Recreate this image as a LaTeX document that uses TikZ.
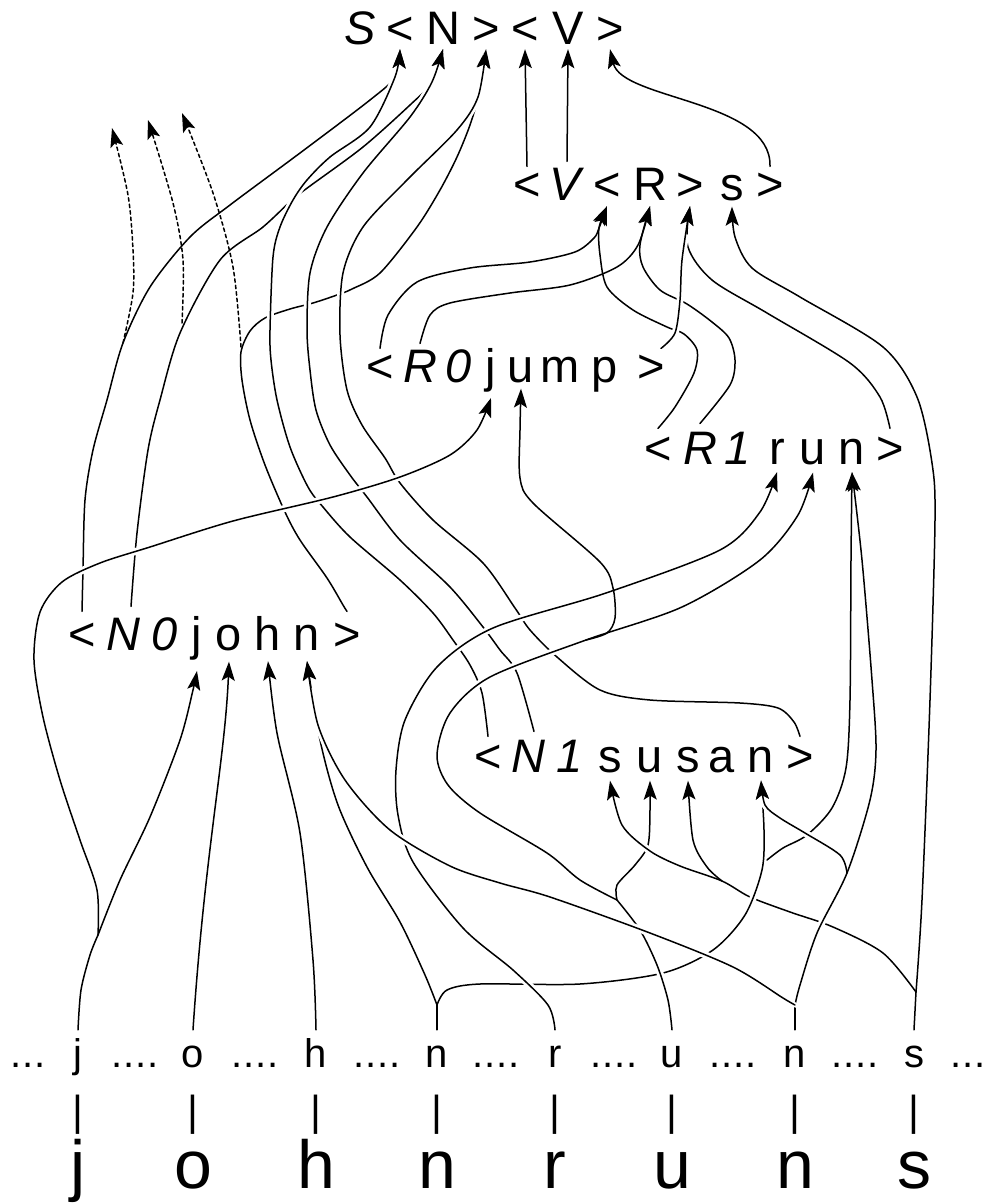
\documentclass[tikz,border=0pt]{standalone}
\usepackage{fontspec}
\setmainfont{Liberation Sans}
\usetikzlibrary{arrows.meta}
\newcommand\rowfont{\fontsize{47}{54}\selectfont}
\newcommand\tapefont{\fontsize{40}{46}\selectfont}
\newcommand\barfont{\fontsize{42}{48}\selectfont}
\newcommand\wordfont{\fontsize{68}{78}\selectfont}
\newcommand\threedots{.\kern1pt.\kern1pt.}
\newcommand\fourdots{.\kern1pt.\kern1pt.\kern1pt.}
\tikzset{
  glyph/.style={font=\rowfont, anchor=base, inner xsep=2pt, inner ysep=#1},
  glyph/.default=7pt,
  tape/.style={font=\tapefont, anchor=base, inner ysep=8pt, text height=29pt, text depth=8pt},
  strand/.style={line width=1.5pt, line cap=round},
  feed/.style={strand, -{Stealth[length=19pt,width=13pt,inset=4pt]}},
  over/.style 2 args={preaction={draw=white, line width=7pt, -, shorten <=#1, shorten >=#2}},
  hint/.style={feed, dash pattern=on 3.5pt off 3pt},
}
\begin{document}
\begin{tikzpicture}[x=1pt,y=-1pt]
\useasboundingbox (0,0) rectangle (994,1203);

% symbol rows
\foreach \nm/\x/\g in {tS/360/\textit{S},tlt/400/<,tN/443/N,tgt/486/>,tlt2/525/<,tV/568/V,tgt2/610/>}
  \node[glyph=5pt] (\nm) at (\x,44) {\g};
\foreach \nm/\x/\g in {vlt/527/<,vV/567/\textit{V},vlt2/607/<,vR/650/R,vgt/690/>,vs/732/s,vgt2/770/>}
  \node[glyph=6pt] (\nm) at (\x,200) {\g};
\foreach \nm/\x/\g in {jplt/380/<,jpR/420/\textit{R},jp0/459/\textit{0},jpj/491/j,jpu/521/u,jpm/560/m,jpp/605/p,jpgt/651/>}
  \node[glyph=6pt] (\nm) at (\x,382) {\g};
\foreach \nm/\x/\g in {rnlt/658/<,rnR/700/\textit{R},rn1/738/\textit{1},rnr/777/r,rnu/813/u,rnn/852/n,rngt/890/>}
  \node[glyph=8pt] (\nm) at (\x,464) {\g};
\foreach \nm/\x/\g in {jnlt/82/<,jnN/123/\textit{N},jn0/165/\textit{0},jnj/197/j,jno/229/o,jnh/268/h,jnn/307/n,jngt/347/>}
  \node[glyph=11pt] (\nm) at (\x,650) {\g};
\foreach \nm/\x/\g in {sult/488/<,suN/528/\textit{N},su1/570/\textit{1},sus/610/s,suu/650/u,sus2/688/s,sua/722/a,sun/761/n,sugt/800/>}
  \node[glyph=8pt] (\nm) at (\x,772) {\g};

% input tape, bars and word
\foreach \nm/\x/\g in {d0/28/\threedots,ij/78/j,d1/135/\fourdots,io/193/o,d2/255/\fourdots,ih/316/h,d3/377/\fourdots,in/437/n,
  d4/496/\fourdots,ir/555/r,d5/614/\fourdots,iu/672/u,d6/733/\fourdots,in2/795/n,d7/855/\fourdots,is/914/s,d8/968/\threedots}
  \node[tape] (\nm) at (\x,1067) {\g};
\foreach \nm/\x/\g in {bj/78/j,bo/193/o,bh/316/h,bn/437/n,br/555/r,bu/672/u,bn2/795/n,bs/914/s} {
  \node[font=\barfont] (bar-\nm) at (\x,1115) {|};
  \node[font=\wordfont, anchor=base] (\nm) at (\x,1188) {\g};
}

% junctions
\coordinate (Jj) at (98,935);
\coordinate (Jn1) at (437,1005);
\coordinate (Ju1) at (617,900);
\coordinate (Ju2) at (586,640);
\coordinate (Jsn) at (767,860);
\coordinate (Jn2) at (795,1005);
\coordinate (Js) at (916,992);
\coordinate (Js2) at (722,881);
\coordinate (Jr) at (847,873);

% lower strands
\draw[feed] plot[smooth] coordinates {(jngt.north) (343,605) (327,578) (300,540) (285,512) (265,465) (250,420) (242,380) (241,352) (250,331) (265,318) (290,309) (313,303) (337,295) (352,289) (380,273) (417,227) (440,190) (457,157) (470,125) (478,97) (tgt.south)};
\draw[feed] plot[smooth] coordinates {([xshift=8pt]jnN.north) (137,533) (148,450) (160,400) (180,333) (220,260) (263,227) (293,199) (310,186) (363,147) (410,105) (432,82) (tN.south)};
\draw[feed] plot[smooth] coordinates {(jnlt.north) (83,570) (85,500) (93,450) (107,400) (123,343) (150,287) (190,237) (230,205) (300,153) (370,100) (395,77) (tlt.south)};
\draw[feed] plot[smooth] coordinates {(Ju1) (617,885) (635,865) (648,845) (650,810) (suu.south)};
\draw[feed] (vlt.north) -- (tlt2.south);
\draw[feed] (vV.north) -- (tV.south);
\draw[feed] (vgt2.north) .. controls (772,100) and (622,100) .. (tgt2.south);
\draw[feed] plot[smooth] coordinates {(jplt.north) (388,315) (417,282) (470,268) (530,262) (575,252) (594,238) (599,228) (vlt2.south)};
\draw[feed] plot[smooth] coordinates {(jpR.north) (430,315) (450,303) (510,293) (570,285) (617,267) (638,245) (vR.south)};
\draw[feed] plot[smooth] coordinates {(rnlt.north) (675,407) (694,373) (697,350) (684,334) (667,327) (633,310) (607,287) (600,255) (599,228) (vlt2.south)};
\draw[feed] plot[smooth] coordinates {(rnR.north) (730,385) (735,360) (729,338) (712,322) (687,304) (660,290) (643,267) (640,245) (vR.south)};
\draw[feed] plot[smooth] coordinates {(rngt.north) (880,397) (850,363) (767,313) (712,280) (688,247) (vgt.south)};
\draw[feed] plot[smooth] coordinates {(Js) (922,900) (930,700) (935,520) (932,463) (917,397) (883,347) (800,297) (752,268) (735,237) (vs.south)};
\draw[feed] plot[smooth] coordinates {(Jj) (120,880) (150,817) (180,740) (193,690) (jnj.south)};
\draw[feed] (io.north) .. controls (205,850) and (225,760) .. (jno.south);
\draw[feed] plot[smooth] coordinates {(ih.north) (313,960) (300,833) (277,733) (jnh.south)};
\draw[feed] plot[smooth] coordinates {(Jn1) (425,975) (400,922) (367,867) (338,805) (320,740) (jnn.south)};
\draw[strand] plot[smooth] coordinates {(ij.north) (81,990) (90,955) (Jj)};
\draw[strand] (in.north) -- (Jn1);
\draw[strand] (in2.north) -- (Jn2);
\draw[strand] (is.north) -- (Js);

% second names, over the first ones
\draw[feed,over={40pt}{40pt}] plot[smooth] coordinates {(sult.north) (482,693) (470,665) (453,640) (433,613) (400,580) (350,537) (323,507) (308,487) (290,447) (277,400) (271,360) (270,330) (273,257) (280,227) (293,200) (307,180) (330,157) (370,127) (395,77) (tlt.south)};
\draw[feed,over={40pt}{40pt}] plot[smooth] coordinates {([xshift=6pt]suN.north) (517,673) (500,650) (483,627) (450,587) (400,540) (367,497) (350,475) (330,445) (316,410) (310,370) (307,330) (310,273) (327,227) (363,173) (410,117) (432,82) (tN.south)};
\draw[feed,over={40pt}{40pt}] plot[smooth] coordinates {(sugt.north) (794,722) (778,708) (740,703) (650,700) (600,690) (557,657) (530,630) (515,608) (483,563) (433,520) (400,483) (385,458) (362,425) (347,390) (340,335) (343,273) (363,227) (407,180) (457,130) (478,97) (tgt.south)};
\draw[feed,over={25pt}{25pt}] plot[smooth] coordinates {(Js) (883,953) (833,927) (790,912) (750,897) (Js2) (680,866) (650,851) (622,825) (sus.south)};
\draw[feed] plot[smooth] coordinates {(Js2) (707,867) (693,840) (sus2.south)};
\draw[feed,over={30pt}{30pt}] plot[smooth] coordinates {(Jn1) (447,990) (480,984) (580,984) (663,973) (713,950) (745,915) (762,870) (764,830) (sun.south)};
\draw[feed] plot[smooth] coordinates {(Jsn) (783,848) (807,835) (832,808) (846,768) (850,700) (851,560) (rnn.south)};

% verbs
\draw[feed,over={30pt}{30pt}] plot[smooth] coordinates {(ir.north) (548,1005) (513,970) (463,928) (413,862) (398,815) (396,770) (405,720) (437,667) (493,628) (606,593) (720,550) (760,512) (rnr.south)};
\draw[strand,over={25pt}{40pt}] plot[smooth] coordinates {(iu.north) (668,1000) (657,965) (640,930) (Ju1)};
\draw[feed,over={30pt}{30pt}] plot[smooth] coordinates {(Ju1) (580,880) (547,853) (480,813) (448,785) (437,755) (450,713) (490,677) (Ju2) (682,607) (760,560) (798,515) (rnu.south)};
\draw[feed,over={5pt}{60pt}] plot[smooth] coordinates {([xshift=10pt]jpgt.north) (675,333) (680,300) (682,260) (vgt.south)};
\draw[feed,over={30pt}{70pt}] plot[smooth] coordinates {(Jn2) (800,985) (817,933) (847,873) (870,800) (876,750) (872,680) (862,560) (rnn.south)};
\draw[feed,over={20pt}{25pt}] plot[smooth] coordinates {(Jr) (840,855) (805,833) (780,818) (765,805) (sun.south)};

% long ones on top
\draw[feed,over={30pt}{70pt}] plot[smooth] coordinates {(Jn2) (783,998) (733,967) (650,933) (550,897) (500,883) (450,866) (390,830) (345,780) (318,725) (jnn.south)};
\draw[feed,over={30pt}{30pt}] plot[smooth] coordinates {(Jj) (97,890) (80,840) (60,780) (43,717) (34,660) (40,612) (62,582) (100,563) (150,547) (233,521) (333,497) (400,477) (450,455) (477,430) (jpj.south)};
\draw[feed] plot[smooth] coordinates {(Ju2) (607,633) (615,618) (613,588) (600,562) (533,503) (520,478) (520,430) (jpu.south)};

% other candidates
\coordinate (h1) at (112,128);
\coordinate (h2) at (148,120);
\coordinate (h3) at (182,113);
\draw[hint] plot[smooth] coordinates {(123,343) (133,293) (133,250) (128,195) (h1)};
\draw[hint] plot[smooth] coordinates {(182,323) (183,260) (173,203) (h2)};
\draw[hint] plot[smooth] coordinates {(241,347) (233,267) (213,193) (h3)};
\end{tikzpicture}
\end{document}
